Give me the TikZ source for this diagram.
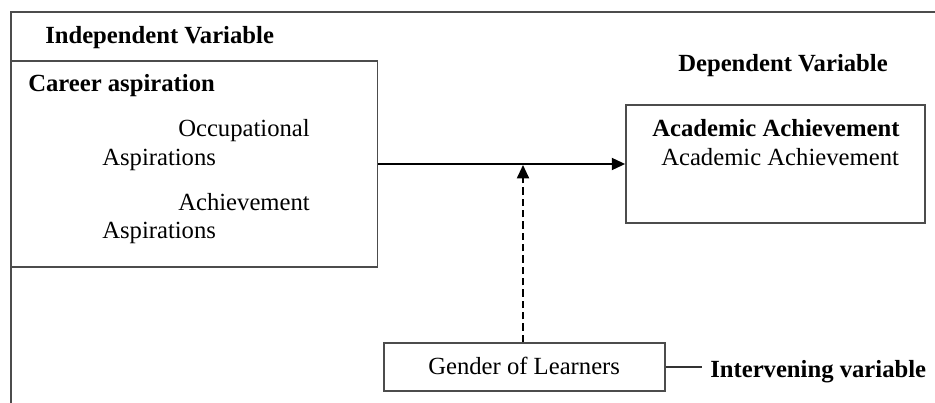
\documentclass[tikz,border=0pt]{standalone}
\usepackage{fontspec}
\setmainfont{Liberation Serif}
\usetikzlibrary{arrows.meta,calc}
\begin{document}
\begin{tikzpicture}[x=0.75pt,y=-0.75pt,
  txt/.style={anchor=base west,inner sep=0pt,font=\fontsize{18.5}{22}\selectfont},
  btxt/.style={txt,font=\fontsize{18.5}{22}\selectfont\bfseries},
  box/.style={draw=black!70,line width=1.3pt,inner sep=0pt},
  conn/.style={draw=black,line width=1.4pt},
  tip/.style={-{Triangle[length=10pt,width=9pt]}}
]
\useasboundingbox (0,0) rectangle (935,403);
% outer frame (top and left edges)
\draw[black!70,line width=1.2pt] (935,12) -- (11,12) -- (11,403);
% boxes
\node[box,minimum width=274.5pt,minimum height=154.5pt] (lbox) at (194.5,164) {};
\node[box,minimum width=224.25pt,minimum height=88.1pt] (rbox) at (775.5,164) {};
\node[box,minimum width=210.75pt,minimum height=36pt] (gbox) at (524.5,367) {};
% texts
\node[btxt] (iv) at (45,44) {Independent Variable};
\node[btxt] (ca) at (28,92) {Career aspiration};
\node[txt] (oc1) at (178,137) {Occupational};
\node[txt] (oc2) at (102,165) {Aspirations};
\node[txt] (ac1) at (178,210) {Achievement};
\node[txt] (ac2) at (102,238) {Aspirations};
\node[btxt] (dv) at (678,72) {Dependent Variable};
\node[btxt] (aa1) at (652,137) {Academic Achievement};
\node[txt] (aa2) at (661,165) {Academic Achievement};
\node[txt] (gl) at (428,374) {Gender of Learners};
\node[btxt] (int) at (710,377) {Intervening variable};
% connectors
\draw[conn,tip] (lbox.east) -- (rbox.west);
\coordinate (mid) at (523,165);
\draw[conn,tip,dash pattern=on 5.5pt off 3pt] (gbox.north -| mid) -- (mid);
\draw[black!80,line width=1.3pt] (gbox.east) -- ($(int.west |- gbox.east)+(-6pt,0)$);
\end{tikzpicture}
\end{document}
